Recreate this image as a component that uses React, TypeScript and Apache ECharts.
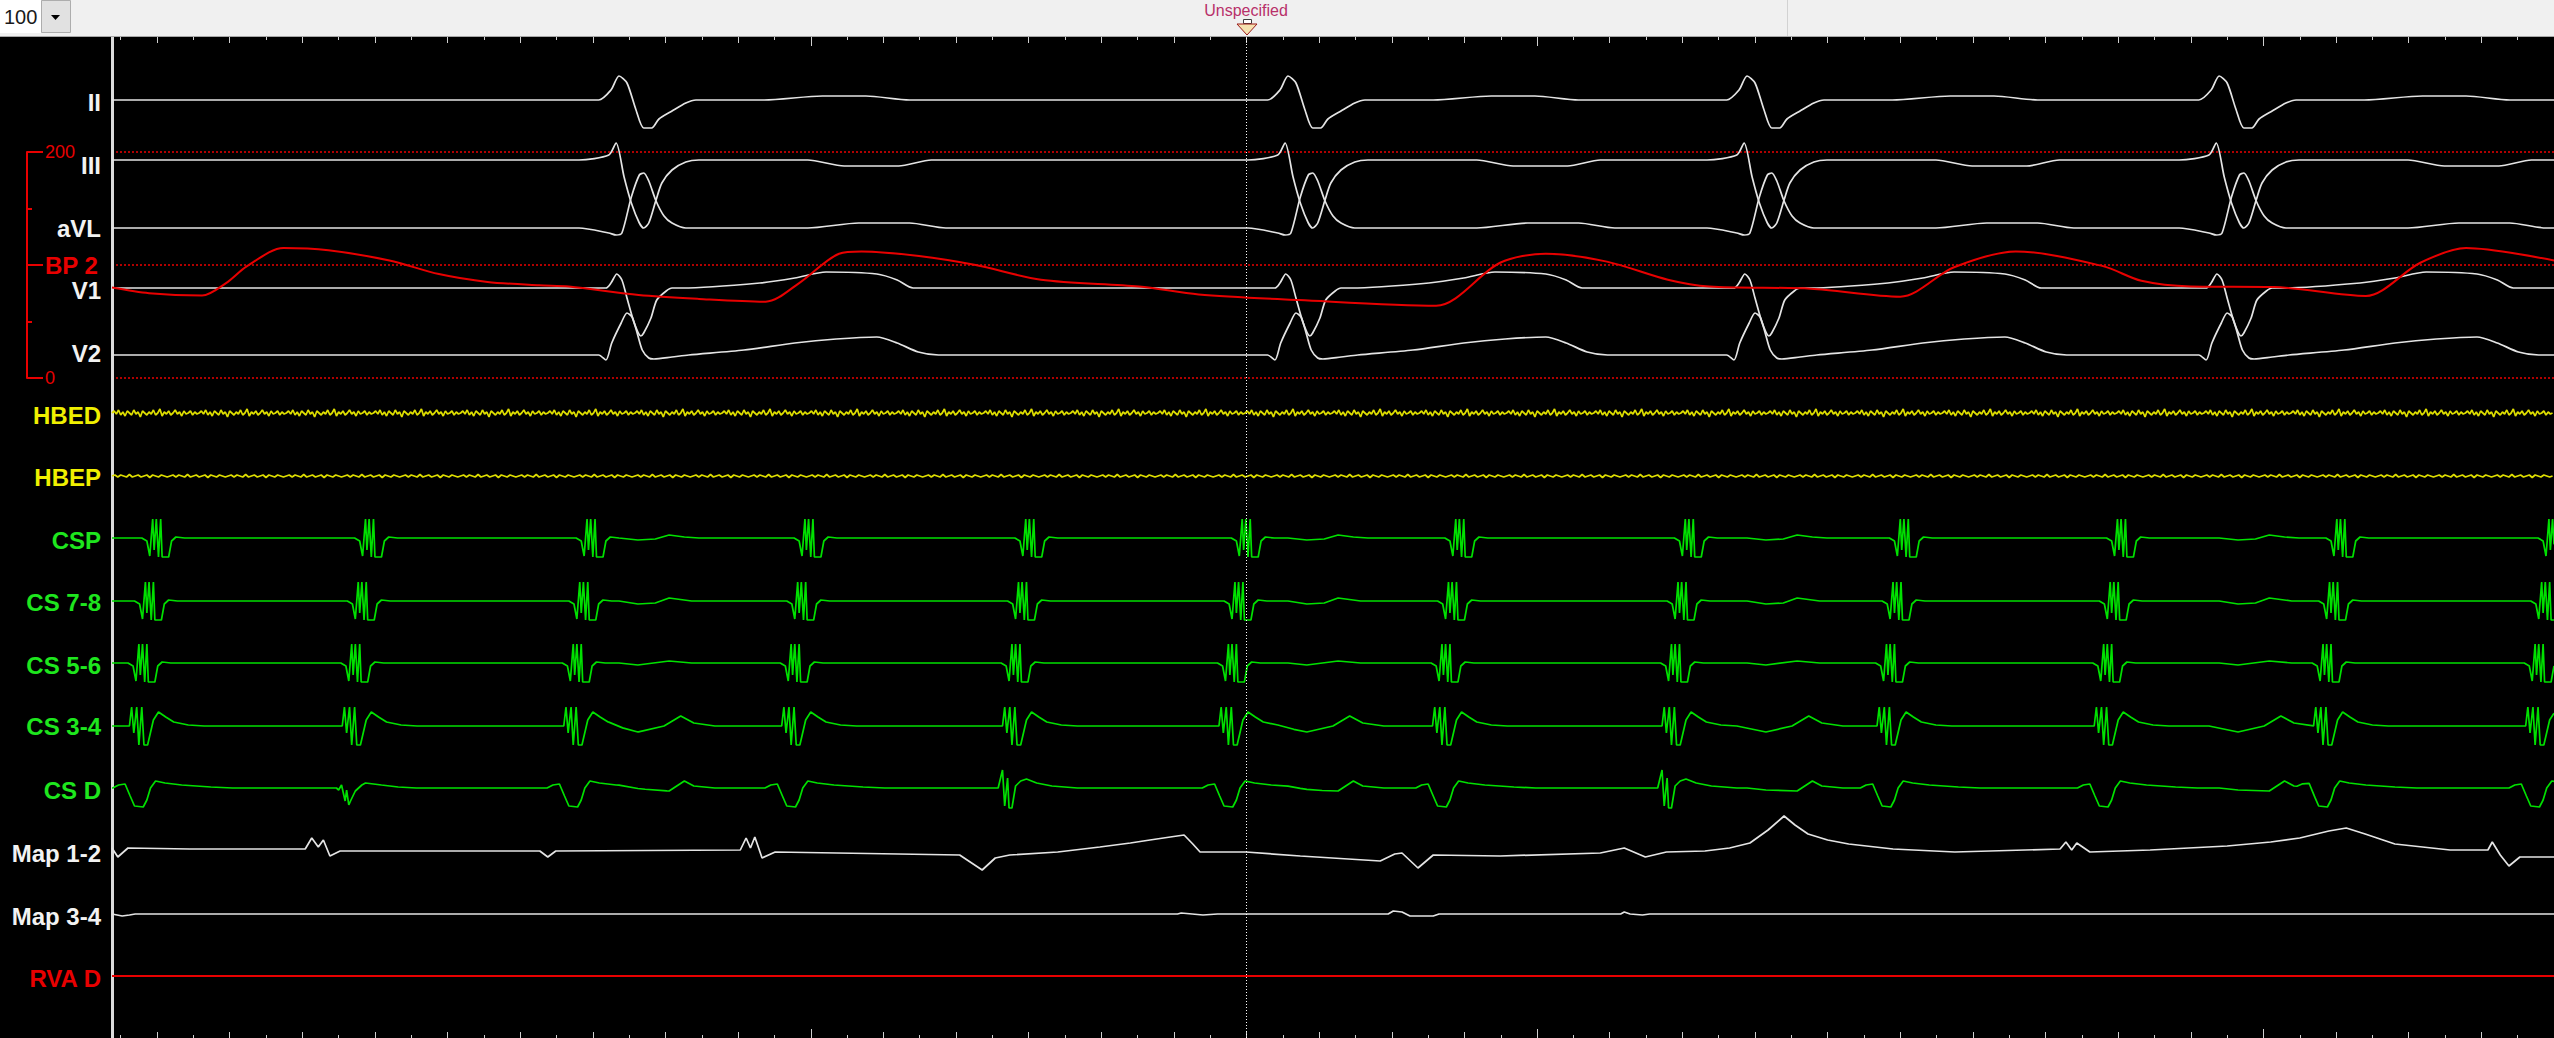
import React, { useEffect, useRef } from 'react';
import * as echarts from 'echarts';

type Pt = [number, number];

// ---------- time axis (ms) ----------
const T_MIN = -12;
const T_MAX = 3350;
const MARKER_TIME = 1550;

// ---------- event times (ms) ----------
const QRS_TIMES = [686, 1607, 2239, 2889];
const ATRIAL_TIMES = [44, 337, 642, 942, 1246, 1544, 1838, 2154, 2450, 2749, 3051, 3343];
const CSD_TYPES = ['A', 'C', 'A', 'A', 'B', 'A', 'A', 'B', 'A', 'A', 'A', 'A'];

// ---------- surface ECG beat shapes ([ms from QRS, amplitude]) ----------
const II_BEAT: Pt[] = [[-28, 0], [-11, 10], [0, 24], [11, 17], [23, -9], [34, -28], [45, -28], [55, -19], [73, -11], [92, -3], [106, 0], [200, 0], [280, 4], [340, 4], [400, 0]];
const III_BEAT: Pt[] = [[-55, 0], [-14, 5], [-4, 17], [7, -17], [17, -43], [28, -63], [34, -68], [41, -63], [51, -40], [59, -23], [73, -10], [92, -2], [110, 0], [260, 0], [310, -6], [385, -6], [430, 0]];
const AVL_BEAT: Pt[] = [[-55, 0], [-14, -5], [-4, -7], [4, -5], [17, 31], [28, 53], [34, 55], [41, 47], [51, 27], [62, 12], [73, 5], [92, 0], [260, 0], [330, 5], [400, 5], [450, 0]];
const V1_BEAT: Pt[] = [[-18, 0], [-11, 5], [-3, 14], [4, 8], [11, -10], [21, -35], [30, -48], [34, -45], [44, -30], [52, -12], [65, -3], [73, 0], [88, 0], [194, 5], [242, 10], [285, 16], [355, 14], [383, 8], [405, 0]];
const V2_BEAT: Pt[] = [[-28, 0], [-18, -5], [-10, 12], [3, 32], [11, 42], [18, 38], [25, 22], [32, 5], [41, -3], [48, -4], [73, -2], [96, 0], [172, 5], [242, 12], [299, 16], [355, 18], [383, 12], [412, 3], [440, 0]];

// ---------- BP 2 (ms, mmHg) ----------
const BP_2: Pt[] = [[-12, 80], [39, 75], [112, 73], [145, 84], [174, 99], [224, 115], [286, 113], [370, 104], [438, 92], [505, 85], [576, 82], [617, 81], [713, 73.5], [796, 70], [888, 67.5], [934, 84], [989, 110], [1020, 112], [1099, 108], [1177, 100], [1267, 87], [1402, 81], [1484, 74], [1622, 69], [1811, 64], [1899, 102], [1962, 110], [2046, 103], [2130, 87], [2187, 81], [2327, 79], [2450, 72], [2524, 98], [2609, 112], [2729, 99], [2782, 86], [2850, 81], [2965, 80.5], [3091, 72.6], [3166, 102], [3229, 115], [3350, 104]];

// ---------- His bundle noise samples ----------
const HBED_NOISE = [0, 2, -1, 3, -2, 1, -3, 2, 0, -2, 3, -1, 1, -4, 2, 0, -2, 1, -1, 3, -2, 0, 4, -3, 1, -1, 2, -2, 0, 3, -1, 1, -3, 2, -1, 0, 2, -2, 1, -1];
const HBEP_NOISE = [0, 1, -1, 1, 0, -1, 1.5, -1, 0, 1, -1, 0, 1, -1.5, 1, 0, -1, 1, 0, -1];

// ---------- coronary sinus electrograms ([ms from atrial activation, amplitude]) ----------
const CS_ATRIAL: Pt[] = [[-15, 0], [-8, -3], [-4, -18], [0, 19], [2, -12], [5, 19], [8, -19], [11, 19], [13, -19], [22, -19], [26, -3], [32, 1], [44, 0]];
const CS34_ATRIAL: Pt[] = [[-3, 0], [0, 19], [3, -7], [7, 19], [10, -19], [14, 19], [17, -19], [22, -19], [30, 6], [37, 14], [47, 9], [58, 4], [78, 1], [100, 0]];
const CSD_A: Pt[] = [[-55, 0], [-47, 3], [-38, 4], [-31, -8], [-25, -18], [-13, -19], [-8, -12], [-3, 0], [4, 7], [17, 5], [40, 3], [80, 1], [110, 0]];
const CSD_B: Pt[] = [[-38, 0], [-32, 18], [-29, -18], [-25, 10], [-23, -20], [-19, -20], [-14, 2], [-7, 7], [1, 9], [15, 5], [36, 2], [71, 0]];
const CSD_C: Pt[] = [[-40, 0], [-37, -2], [-33, 3], [-28, -13], [-26, -2], [-23, -17], [-20, -12], [-14, -3], [-5, 3], [0, 5], [22, 3], [45, 1], [70, 0]];
const CS_OFFSETS = { CSP: 0, CS78: -10, CS56: -19, CS34: -29 };
// far-field ventricular ([ms from QRS, amplitude])
const CSP_V: Pt[] = [[0, 0], [26, -2], [50, -1], [69, 3], [90, 1], [110, 0]];
const CS78_V: Pt[] = [[0, 0], [26, -3], [50, -2], [69, 3], [100, 0]];
const CS56_V: Pt[] = [[0, 0], [26, -2], [69, 2], [100, 0]];
const CS34_V: Pt[] = [[-14, 0], [26, -6], [62, 0], [85, 10], [103, 3], [132, 0]];
const CSD_V: Pt[] = [[0, 0], [26, -2], [69, -3], [90, 7], [103, 2], [132, 0]];

// ---------- mapping / RV ----------
const MAP12: Pt[] = [[-12, 4], [-4, -5], [10, 4], [95, 3], [254, 3], [263, 14], [272, 5], [279, 12], [288, -4], [302, 1], [577, 1], [588, -5], [599, 1], [853, 2], [861, 14], [867, 4], [873, 15], [883, -6], [901, 0], [1155, -3], [1186, -18], [1204, -6], [1224, -3], [1290, 0], [1348, 5], [1390, 9], [1417, 12], [1445, 15], [1464, 17], [1476, 8], [1486, 0], [1549, 0], [1624, -4], [1734, -9], [1754, -2], [1764, -1], [1786, -16], [1807, -3], [1899, -4], [2037, -1], [2070, 4], [2099, -5], [2128, 0], [2181, 1], [2215, 4], [2243, 9], [2268, 22], [2290, 36], [2305, 27], [2323, 18], [2350, 12], [2379, 8], [2440, 3], [2525, 0], [2670, 3], [2678, 10], [2686, 2], [2693, 9], [2711, 0], [2794, 2], [2900, 6], [2960, 10], [3000, 14], [3040, 21], [3064, 24], [3090, 18], [3131, 8], [3207, 2], [3259, 2], [3265, 10], [3276, -3], [3288, -14], [3303, -5], [3350, -5]];
const MAP34: Pt[] = [[-12, 0], [2, -2], [12, -1], [20, 0], [1455, 0], [1460, 1], [1490, -1], [1510, 0], [1745, 0], [1752, 3], [1764, 2], [1775, -2], [1807, -2], [1815, 0], [2065, 0], [2070, 2], [2078, 0], [2095, -1], [2105, 0], [3350, 0]];
const RVA_D: Pt[] = [[-12, 0], [3350, 0]];

// ---------- channel labels ----------
const CHANNEL_NAMES = ['II', 'III', 'aVL', 'V1', 'V2', 'HBED', 'HBEP', 'CSP', 'CS 7-8', 'CS 5-6', 'CS 3-4', 'CS D', 'Map 1-2', 'Map 3-4', 'RVA D'];
const BP_TICKS = [0, 100, 200];

// ---------- layout & styles ----------
const W = 2554;
const H = 1038;
const PLOT_LEFT = 112;
const TOPBAR = 36;
const LABEL_Y = [102, 165, 228, 290, 353, 415, 477, 540, 602, 665, 726.5, 790, 853, 916, 978];
const BASE_Y = [100, 160, 228, 288, 355, 413, 476, 538, 601, 663, 726, 788, 852, 914, 976];
const ROW_HALF = 50;
const WHITE = '#f2f2f2';
const TRACE_WHITE = '#e4e4e4';
const YELLOW = '#f0f000';
const GREEN_LABEL = '#1ee61e';
const GREEN = '#00e000';
const RED = '#e80000';
const LABEL_COLORS = [WHITE, WHITE, WHITE, WHITE, WHITE, YELLOW, YELLOW, GREEN_LABEL, GREEN_LABEL, GREEN_LABEL, GREEN_LABEL, GREEN_LABEL, WHITE, WHITE, RED];
const TRACE_COLORS = [TRACE_WHITE, TRACE_WHITE, TRACE_WHITE, TRACE_WHITE, TRACE_WHITE, '#dede00', '#dede00', GREEN, GREEN, GREEN, GREEN, GREEN, TRACE_WHITE, TRACE_WHITE, RED];
const FONT = '"Liberation Sans", Arial, sans-serif';

function valueAt(tpl: Pt[], dt: number): number {
  const n = tpl.length;
  if (dt < tpl[0][0] || dt > tpl[n - 1][0]) return 0;
  for (let i = 1; i < n; i++) {
    if (dt <= tpl[i][0]) {
      const [t0, v0] = tpl[i - 1];
      const [t1, v1] = tpl[i];
      return t1 === t0 ? v1 : v0 + ((v1 - v0) * (dt - t0)) / (t1 - t0);
    }
  }
  return tpl[0][1];
}

type Part = { tpl: Pt[]; at: number };
function buildTrace(parts: Part[]): Pt[] {
  const times = new Set<number>([T_MIN, T_MAX]);
  parts.forEach((p) => p.tpl.forEach((k) => {
    const t = p.at + k[0];
    if (t >= T_MIN && t <= T_MAX) times.add(t);
  }));
  const sorted = Array.from(times).sort((a, b) => a - b);
  return sorted.map((t) => [t, parts.reduce((s, p) => s + valueAt(p.tpl, t - p.at), 0)] as Pt);
}

function noiseTrace(samples: number[], step: number): Pt[] {
  const out: Pt[] = [];
  let i = 0;
  for (let t = T_MIN; t <= T_MAX; t += step) {
    out.push([t, samples[i % samples.length]]);
    i++;
  }
  return out;
}

const atQrs = (tpl: Pt[]) => QRS_TIMES.map((t) => ({ tpl, at: t }));
const atAtrial = (tpl: Pt[], off: number) => ATRIAL_TIMES.map((t) => ({ tpl, at: t + off }));

function buildTraces(): Pt[][] {
  const csdTpl: Record<string, Pt[]> = { A: CSD_A, B: CSD_B, C: CSD_C };
  return [
    buildTrace(atQrs(II_BEAT)),
    buildTrace(atQrs(III_BEAT)),
    buildTrace(atQrs(AVL_BEAT)),
    buildTrace(atQrs(V1_BEAT)),
    buildTrace(atQrs(V2_BEAT)),
    noiseTrace(HBED_NOISE, 3),
    noiseTrace(HBEP_NOISE, 4),
    buildTrace([...atAtrial(CS_ATRIAL, CS_OFFSETS.CSP), ...atQrs(CSP_V)]),
    buildTrace([...atAtrial(CS_ATRIAL, CS_OFFSETS.CS78), ...atQrs(CS78_V)]),
    buildTrace([...atAtrial(CS_ATRIAL, CS_OFFSETS.CS56), ...atQrs(CS56_V)]),
    buildTrace([...atAtrial(CS34_ATRIAL, CS_OFFSETS.CS34), ...atQrs(CS34_V)]),
    buildTrace([...ATRIAL_TIMES.map((t, i) => ({ tpl: csdTpl[CSD_TYPES[i]], at: t })), ...atQrs(CSD_V)]),
    buildTrace([{ tpl: MAP12, at: 0 }]),
    buildTrace([{ tpl: MAP34, at: 0 }]),
    buildTrace([{ tpl: RVA_D, at: 0 }]),
  ];
}

function rulerTicks(from: number, step: number, skip: number[] = []): number[] {
  const out: number[] = [];
  for (let t = from; t <= T_MAX; t += step) if (!skip.includes(t)) out.push(t);
  return out;
}

function buildOption(): any {
  const traces = buildTraces();
  const grid: any[] = [];
  const xAxis: any[] = [];
  const yAxis: any[] = [];
  const series: any[] = [];
  const smoothLeads = 5;

  CHANNEL_NAMES.forEach((name, i) => {
    const top = LABEL_Y[i] - ROW_HALF;
    const yMax = BASE_Y[i] - top;
    grid.push({ left: PLOT_LEFT, right: 0, top, height: ROW_HALF * 2, containLabel: false, outerBoundsMode: 'none' });
    xAxis.push({ gridIndex: i, type: 'value', min: T_MIN, max: T_MAX, show: false });
    yAxis.push({
      gridIndex: i, type: 'value', min: yMax - ROW_HALF * 2, max: yMax, show: true,
      axisLine: { show: false }, axisTick: { show: false }, axisLabel: { show: false }, splitLine: { show: false },
      name, nameLocation: 'middle', nameRotate: 0, nameGap: 11, nameMoveOverlap: false,
      nameTextStyle: { color: LABEL_COLORS[i], fontSize: 24, fontWeight: 'bold', fontFamily: FONT },
    });
    series.push({
      type: 'line', xAxisIndex: i, yAxisIndex: i, data: traces[i], symbol: 'none', showSymbol: false,
      smooth: i < smoothLeads ? 0.25 : false, clip: false, silent: true,
      lineStyle: { color: TRACE_COLORS[i], width: i === 14 ? 2 : 1.7 },
    });
  });

  // BP 2 channel with its pressure scale
  const bpIdx = CHANNEL_NAMES.length;
  grid.push({ left: PLOT_LEFT, right: 0, top: 152, height: 226, containLabel: false, outerBoundsMode: 'none' });
  xAxis.push({ gridIndex: bpIdx, type: 'value', min: T_MIN, max: T_MAX, show: false });
  yAxis.push({
    gridIndex: bpIdx, type: 'value', min: BP_TICKS[0], max: BP_TICKS[2], interval: BP_TICKS[1] - BP_TICKS[0],
    position: 'left', offset: 85,
    axisLine: { show: true, onZero: false, lineStyle: { color: RED, width: 2 } },
    axisTick: { show: true, inside: true, length: 16, lineStyle: { color: RED, width: 2 } },
    minorTick: { show: true, splitNumber: 2, length: 5, lineStyle: { color: RED, width: 2 } },
    axisLabel: {
      show: true, inside: true, margin: 18, color: RED,
      formatter: (v: number) => (v === BP_TICKS[1] ? '{b|BP 2}' : `{n|${v}}`),
      rich: {
        b: { fontSize: 24, fontWeight: 'bold', color: RED, fontFamily: FONT },
        n: { fontSize: 18, color: RED, fontFamily: FONT },
      },
    },
    splitLine: { show: true, lineStyle: { color: '#b00000', width: 2, type: [2, 2] } },
  });
  series.push({
    type: 'line', xAxisIndex: bpIdx, yAxisIndex: bpIdx, data: BP_2, symbol: 'none', showSymbol: false,
    smooth: 0.3, clip: false, silent: true, lineStyle: { color: RED, width: 2 }, z: 3,
  });

  // ruler grid: time ticks top & bottom, left border, cursor line
  const rIdx = bpIdx + 1;
  grid.push({ left: PLOT_LEFT, right: 0, top: TOPBAR + 1, bottom: 0, containLabel: false, outerBoundsMode: 'none' });
  const secTicks = [950, 1950, 2950];
  const tickSets: [string, number[], number][] = [
    ['bottom', rulerTicks(0, 100), 3],
    ['bottom', rulerTicks(50, 100, secTicks), 6],
    ['bottom', secTicks, 9],
    ['top', rulerTicks(0, 100), 3],
    ['top', rulerTicks(50, 100, secTicks), 6],
    ['top', secTicks, 9],
  ];
  const firstRulerX = xAxis.length;
  tickSets.forEach(([pos, values, len]) => {
    xAxis.push({
      gridIndex: rIdx, type: 'value', min: T_MIN, max: T_MAX, position: pos,
      axisLine: { show: false, onZero: false }, axisLabel: { show: false }, splitLine: { show: false },
      axisTick: { show: true, inside: true, length: len, customValues: values, lineStyle: { color: '#d0d0d0', width: 1 } },
    });
  });
  yAxis.push({
    gridIndex: rIdx, type: 'value', min: 0, max: 1, position: 'left',
    axisLine: { show: true, onZero: false, lineStyle: { color: '#dcdcdc', width: 3 } },
    axisTick: { show: false }, axisLabel: { show: false }, splitLine: { show: false },
  });
  series.push({
    type: 'line', xAxisIndex: firstRulerX, yAxisIndex: rIdx, data: [], silent: true, z: 10,
    markLine: {
      symbol: ['none', 'none'], silent: true, animation: false, label: { show: false },
      lineStyle: { color: '#ffffff', type: [1, 2], width: 1 },
      data: [{ xAxis: MARKER_TIME }],
    },
  });

  const graphic = [
    { type: 'rect', shape: { x: 0, y: 0, width: W, height: TOPBAR }, style: { fill: '#f0f0f0' }, z: 100 },
    { type: 'line', shape: { x1: 0, y1: TOPBAR + 0.5, x2: W, y2: TOPBAR + 0.5 }, style: { stroke: '#a8a8a8', lineWidth: 1 }, z: 101 },
    { type: 'rect', shape: { x: 0, y: 0, width: 41, height: 33 }, style: { fill: '#ffffff' }, z: 101 },
    { type: 'text', x: 4, y: 17, style: { text: '100', fontSize: 20, fontFamily: FONT, fill: '#1a1a1a', verticalAlign: 'middle' }, z: 102 },
    { type: 'rect', shape: { x: 41.5, y: 0.5, width: 29, height: 32 }, style: { fill: '#e1e1e1', stroke: '#adadad', lineWidth: 1 }, z: 102 },
    { type: 'polygon', shape: { points: [[51, 15], [60, 15], [55.5, 20]] }, style: { fill: '#000000' }, z: 103 },
    { type: 'line', shape: { x1: 1787.5, y1: 0, x2: 1787.5, y2: TOPBAR }, style: { stroke: '#d2d2d2', lineWidth: 1 }, z: 101 },
    { type: 'text', x: 1246, y: 10, style: { text: 'Unspecified', fontSize: 16, fontFamily: FONT, fill: '#b8306a', align: 'center', verticalAlign: 'middle' }, z: 102 },
    { type: 'rect', shape: { x: 1243.5, y: 19.5, width: 8, height: 4 }, style: { fill: '#ffffff', stroke: '#404040', lineWidth: 1 }, z: 102 },
    { type: 'polygon', shape: { points: [[1237, 24], [1257, 24], [1247, 35]] }, style: { fill: '#f5e2b0', stroke: '#9a1a1a', lineWidth: 1 }, z: 102 },
  ];

  return { animation: false, backgroundColor: '#000000', grid, xAxis, yAxis, series, graphic };
}

export default function App() {
  const ref = useRef<HTMLDivElement>(null);
  useEffect(() => {
    document.body.style.margin = '0';
    document.body.style.overflow = 'hidden';
    const chart = echarts.init(ref.current as HTMLDivElement, null, { renderer: 'svg' });
    chart.setOption(buildOption());
    return () => chart.dispose();
  }, []);
  return <div ref={ref} style={{ width: W, height: H, background: '#000' }} />;
}
